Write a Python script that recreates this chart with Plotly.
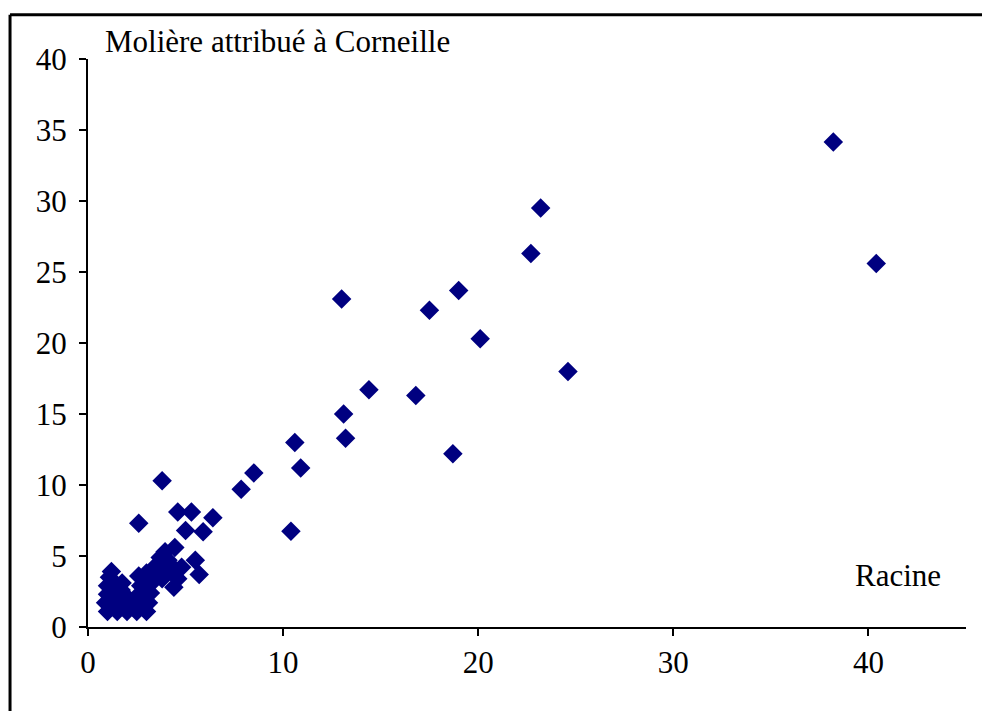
import plotly.graph_objects as go

# Racine (x) vs Molière attribué à Corneille (y)
racine = [38.2, 40.4, 23.2, 22.7, 19.0, 13.0, 17.5, 20.1, 24.6, 14.4, 16.8,
          13.1, 13.2, 10.6, 18.7, 10.9, 8.5, 7.85, 10.4, 3.8, 2.6,
          1.0, 1.5, 2.0, 2.5, 3.0,
          0.9, 1.4, 2.0, 2.6, 3.1,
          1.0, 1.5, 2.0, 2.8, 3.2,
          1.0, 1.4, 2.7, 3.1,
          1.1, 1.2, 1.75, 2.6, 3.0,
          3.4, 3.4, 3.7, 3.95, 4.2, 4.45, 4.6, 4.4, 4.8, 5.5, 5.7,
          5.0, 5.9, 4.6, 5.3, 6.4,
          1.3, 1.8, 2.3, 2.8, 1.2, 1.7, 2.4, 2.9, 3.2, 3.6, 4.0, 3.8, 4.1, 4.3]
corneille = [34.15, 25.6, 29.5, 26.3, 23.7, 23.1, 22.3, 20.3, 18.0, 16.7, 16.3,
             15.0, 13.3, 13.0, 12.2, 11.2, 10.85, 9.7, 6.75, 10.3, 7.3,
             1.1, 1.1, 1.1, 1.1, 1.1,
             1.7, 1.7, 1.6, 1.6, 1.7,
             2.3, 2.3, 2.1, 2.2, 2.4,
             2.9, 3.0, 2.9, 3.0,
             3.5, 3.9, 3.1, 3.6, 3.8,
             3.3, 4.2, 4.9, 5.3, 4.4, 5.6, 3.4, 2.8, 4.2, 4.7, 3.7,
             6.8, 6.7, 8.1, 8.1, 7.7,
             1.4, 1.4, 1.4, 1.4, 2.0, 2.6, 2.0, 2.5, 3.4, 3.8, 4.0, 3.4, 4.7, 3.9]

x_ticks = [0, 10, 20, 30, 40]
y_ticks = [0, 5, 10, 15, 20, 25, 30, 35, 40]

FONT = "Liberation Serif"
FS = 31
fig = go.Figure()
fig.add_trace(go.Scatter(
    x=racine, y=corneille, mode="markers",
    marker=dict(symbol="diamond", size=15, color="#000080"),
    showlegend=False, hoverinfo="x+y"))

fig.update_layout(
    width=990, height=711,
    margin=dict(l=80, r=32, t=51, b=92),
    paper_bgcolor="white", plot_bgcolor="white",
    font=dict(family=FONT, size=FS, color="black"),
    xaxis=dict(range=[0, 45], tickvals=x_ticks, showgrid=False, zeroline=False,
               showline=True, linecolor="black", linewidth=2,
               ticks="outside", ticklen=7, tickwidth=2, tickcolor="black",
               tickfont=dict(family=FONT, size=FS)),
    yaxis=dict(range=[0, 40], tickvals=y_ticks, showgrid=False, zeroline=False,
               showline=True, linecolor="black", linewidth=2,
               ticks="outside", ticklen=7, tickwidth=2, tickcolor="black",
               ticklabelstandoff=6,
               tickfont=dict(family=FONT, size=FS)),
    annotations=[
        dict(text="Molière attribué à Corneille", x=0.0171, y=1.03, xref="paper", yref="paper",
             xanchor="left", yanchor="middle", showarrow=False,
             font=dict(family=FONT, size=FS)),
        dict(text="Racine", x=0.871, y=0.0915, xref="paper", yref="paper",
             xanchor="left", yanchor="middle", showarrow=False,
             font=dict(family=FONT, size=FS)),
    ],
    shapes=[
        dict(type="line", xref="paper", yref="paper", x0=-0.0888, x1=-0.0888,
             y0=-0.3, y1=1.078, line=dict(color="black", width=3)),
        dict(type="line", xref="paper", yref="paper", x0=-0.0888, x1=1.2,
             y0=1.078, y1=1.078, line=dict(color="black", width=3)),
    ],
)
fig.write_html("out.html")
